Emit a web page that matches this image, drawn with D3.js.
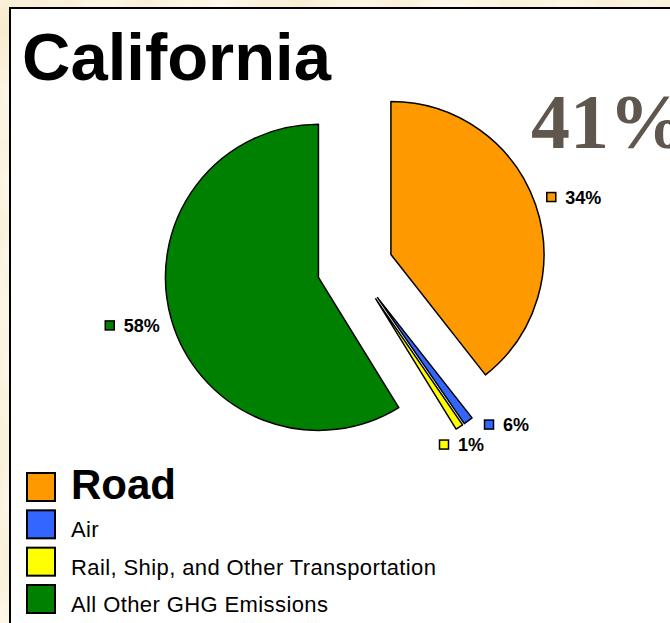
<!DOCTYPE html>
<html>
<head>
<meta charset="utf-8">
<script src="https://cdn.jsdelivr.net/npm/d3@7"></script>
<style>
    body { margin: 0; background: #f8e6c4; }
    svg { display: block; }
</style>
</head>
<body>
<svg id="chart" width="670" height="623"></svg>
<script>
const title = "California";
const transportTotal = "41%";
const categories = ["Road", "Air", "Rail, Ship, and Other Transportation", "All Other GHG Emissions"];
// wedge sizes (%) as drawn
const sliceShares = [39.4, 1.0, 0.8, 58.8];
// data labels as printed beside each wedge
const sliceLabels = ["34%", "6%", "1%", "58%"];
const sliceColors = ["#ff9900", "#3366ff", "#ffff00", "#008000"];

const width = 670, height = 623;
const svg = d3.select('#chart');

// parchment texture behind the white panel
const defs = svg.append('defs');
const paper = defs.append('filter').attr('id', 'parchment')
    .attr('x', 0).attr('y', 0).attr('width', '100%').attr('height', '100%');
paper.append('feTurbulence')
    .attr('type', 'fractalNoise')
    .attr('baseFrequency', '0.012')
    .attr('numOctaves', 3)
    .attr('seed', 4);
paper.append('feColorMatrix')
    .attr('type', 'matrix')
    .attr('values', '-0.1 0 0 0 1.02  -0.2 0 0 0 0.995  -0.4 0 0 0 0.94  0 0 0 0 1');

svg.append('rect')
    .attr('width', width).attr('height', height)
    .attr('filter', 'url(#parchment)');

svg.append('rect')
    .attr('x', 10).attr('y', 8)
    .attr('width', width + 20).attr('height', height + 20)
    .attr('fill', 'white')
    .attr('stroke', 'black')
    .attr('stroke-width', 2);

svg.append('text')
    .attr('x', 22).attr('y', 80)
    .style('font', 'bold 67px "Liberation Sans", Arial, sans-serif')
    .text(title);

// headline figure runs off the right edge in the original slide crop
svg.append('text')
    .attr('x', 531).attr('y', 148)
    .attr('fill', '#5f574e')
    .style('font', 'bold 78px "Liberation Serif", "Times New Roman", serif')
    .text(transportTotal);

// exploded pie
const rows = categories.map((c, i) => ({
    name: c, share: sliceShares[i], label: sliceLabels[i], color: sliceColors[i]
}));

const cx = 355, cy = 267;
const radius = 153, explode = 38, labelRadius = 166;

const pie = d3.pie().sort(null).value(d => d.share);
const arc = d3.arc().innerRadius(0).outerRadius(radius);
const arcs = pie(rows);

arcs.forEach(a => {
    a.mid = (a.startAngle + a.endAngle) / 2;
    a.ox = cx + explode * Math.sin(a.mid);
    a.oy = cy - explode * Math.cos(a.mid);
});

svg.append('g').selectAll('path')
    .data(arcs)
    .enter()
    .append('path')
    .attr('transform', d => `translate(${d.ox},${d.oy})`)
    .attr('d', arc)
    .attr('fill', d => d.data.color)
    .attr('stroke', 'black')
    .attr('stroke-width', 1.5)
    .attr('stroke-linejoin', 'round');

// data labels: marker square + bold percentage
const labelG = svg.append('g').selectAll('g')
    .data(arcs)
    .enter()
    .append('g');

labelG.append('text')
    .style('font', 'bold 18px "Liberation Sans", Arial, sans-serif')
    .text(d => d.data.label);

labelG.each(function(d) {
    const tw = d3.select(this).select('text').node().getComputedTextLength();
    d.lw = 19 + tw;
    d.lh = 20;
    d.px = d.ox + labelRadius * Math.sin(d.mid);
    d.py = d.oy - labelRadius * Math.cos(d.mid);
    d.lx = d.px + d.lw / 2 * Math.sin(d.mid);
    d.ly = d.py - d.lh / 2 * Math.cos(d.mid);
});

// push overlapping neighbours apart, corner to corner around their anchors
for (let i = 0; i < arcs.length - 1; i++) {
    const a = arcs[i], b = arcs[i + 1];
    const overlapX = Math.abs(a.lx - b.lx) < (a.lw + b.lw) / 2;
    const overlapY = Math.abs(a.ly - b.ly) < (a.lh + b.lh) / 2;
    if (overlapX && overlapY) {
        const mx = (a.lx + b.lx) / 2, my = (a.py + b.py) / 2;
        const sx = Math.sign(a.lx - b.lx) || 1, sy = Math.sign(a.ly - b.ly) || 1;
        const hx = (a.lw + b.lw) / 4, hy = (a.lh + b.lh) / 4;
        a.lx = mx + sx * hx; a.ly = my + sy * hy;
        b.lx = mx - sx * hx; b.ly = my - sy * hy;
    }
}

labelG.attr('transform', d => `translate(${d.lx - d.lw / 2},${d.ly})`);

labelG.append('rect')
    .attr('x', 0.5).attr('y', -4.5)
    .attr('width', 9).attr('height', 9)
    .attr('fill', d => d.data.color)
    .attr('stroke', 'black')
    .attr('stroke-width', 1.5);

labelG.select('text')
    .attr('x', 19)
    .attr('y', 6.5);

// legend
const legendY = d3.scaleLinear().domain([0, categories.length - 1]).range([473, 585]);

const legend = svg.append('g').selectAll('g')
    .data(rows)
    .enter()
    .append('g')
    .attr('transform', (d, i) => `translate(27,${legendY(i)})`);

legend.append('rect')
    .attr('width', 28).attr('height', 28)
    .attr('fill', d => d.color)
    .attr('stroke', 'black')
    .attr('stroke-width', 2);

legend.append('text')
    .attr('x', 44)
    .attr('y', (d, i) => i === 0 ? 26 : 27)
    .style('font', (d, i) => i === 0
        ? 'bold 42px "Liberation Sans", Arial, sans-serif'
        : '22px "Liberation Sans", Arial, sans-serif')
    .style('letter-spacing', (d, i) => i === 0 ? '0px' : '0.4px')
    .text(d => d.name);
</script>
</body>
</html>
